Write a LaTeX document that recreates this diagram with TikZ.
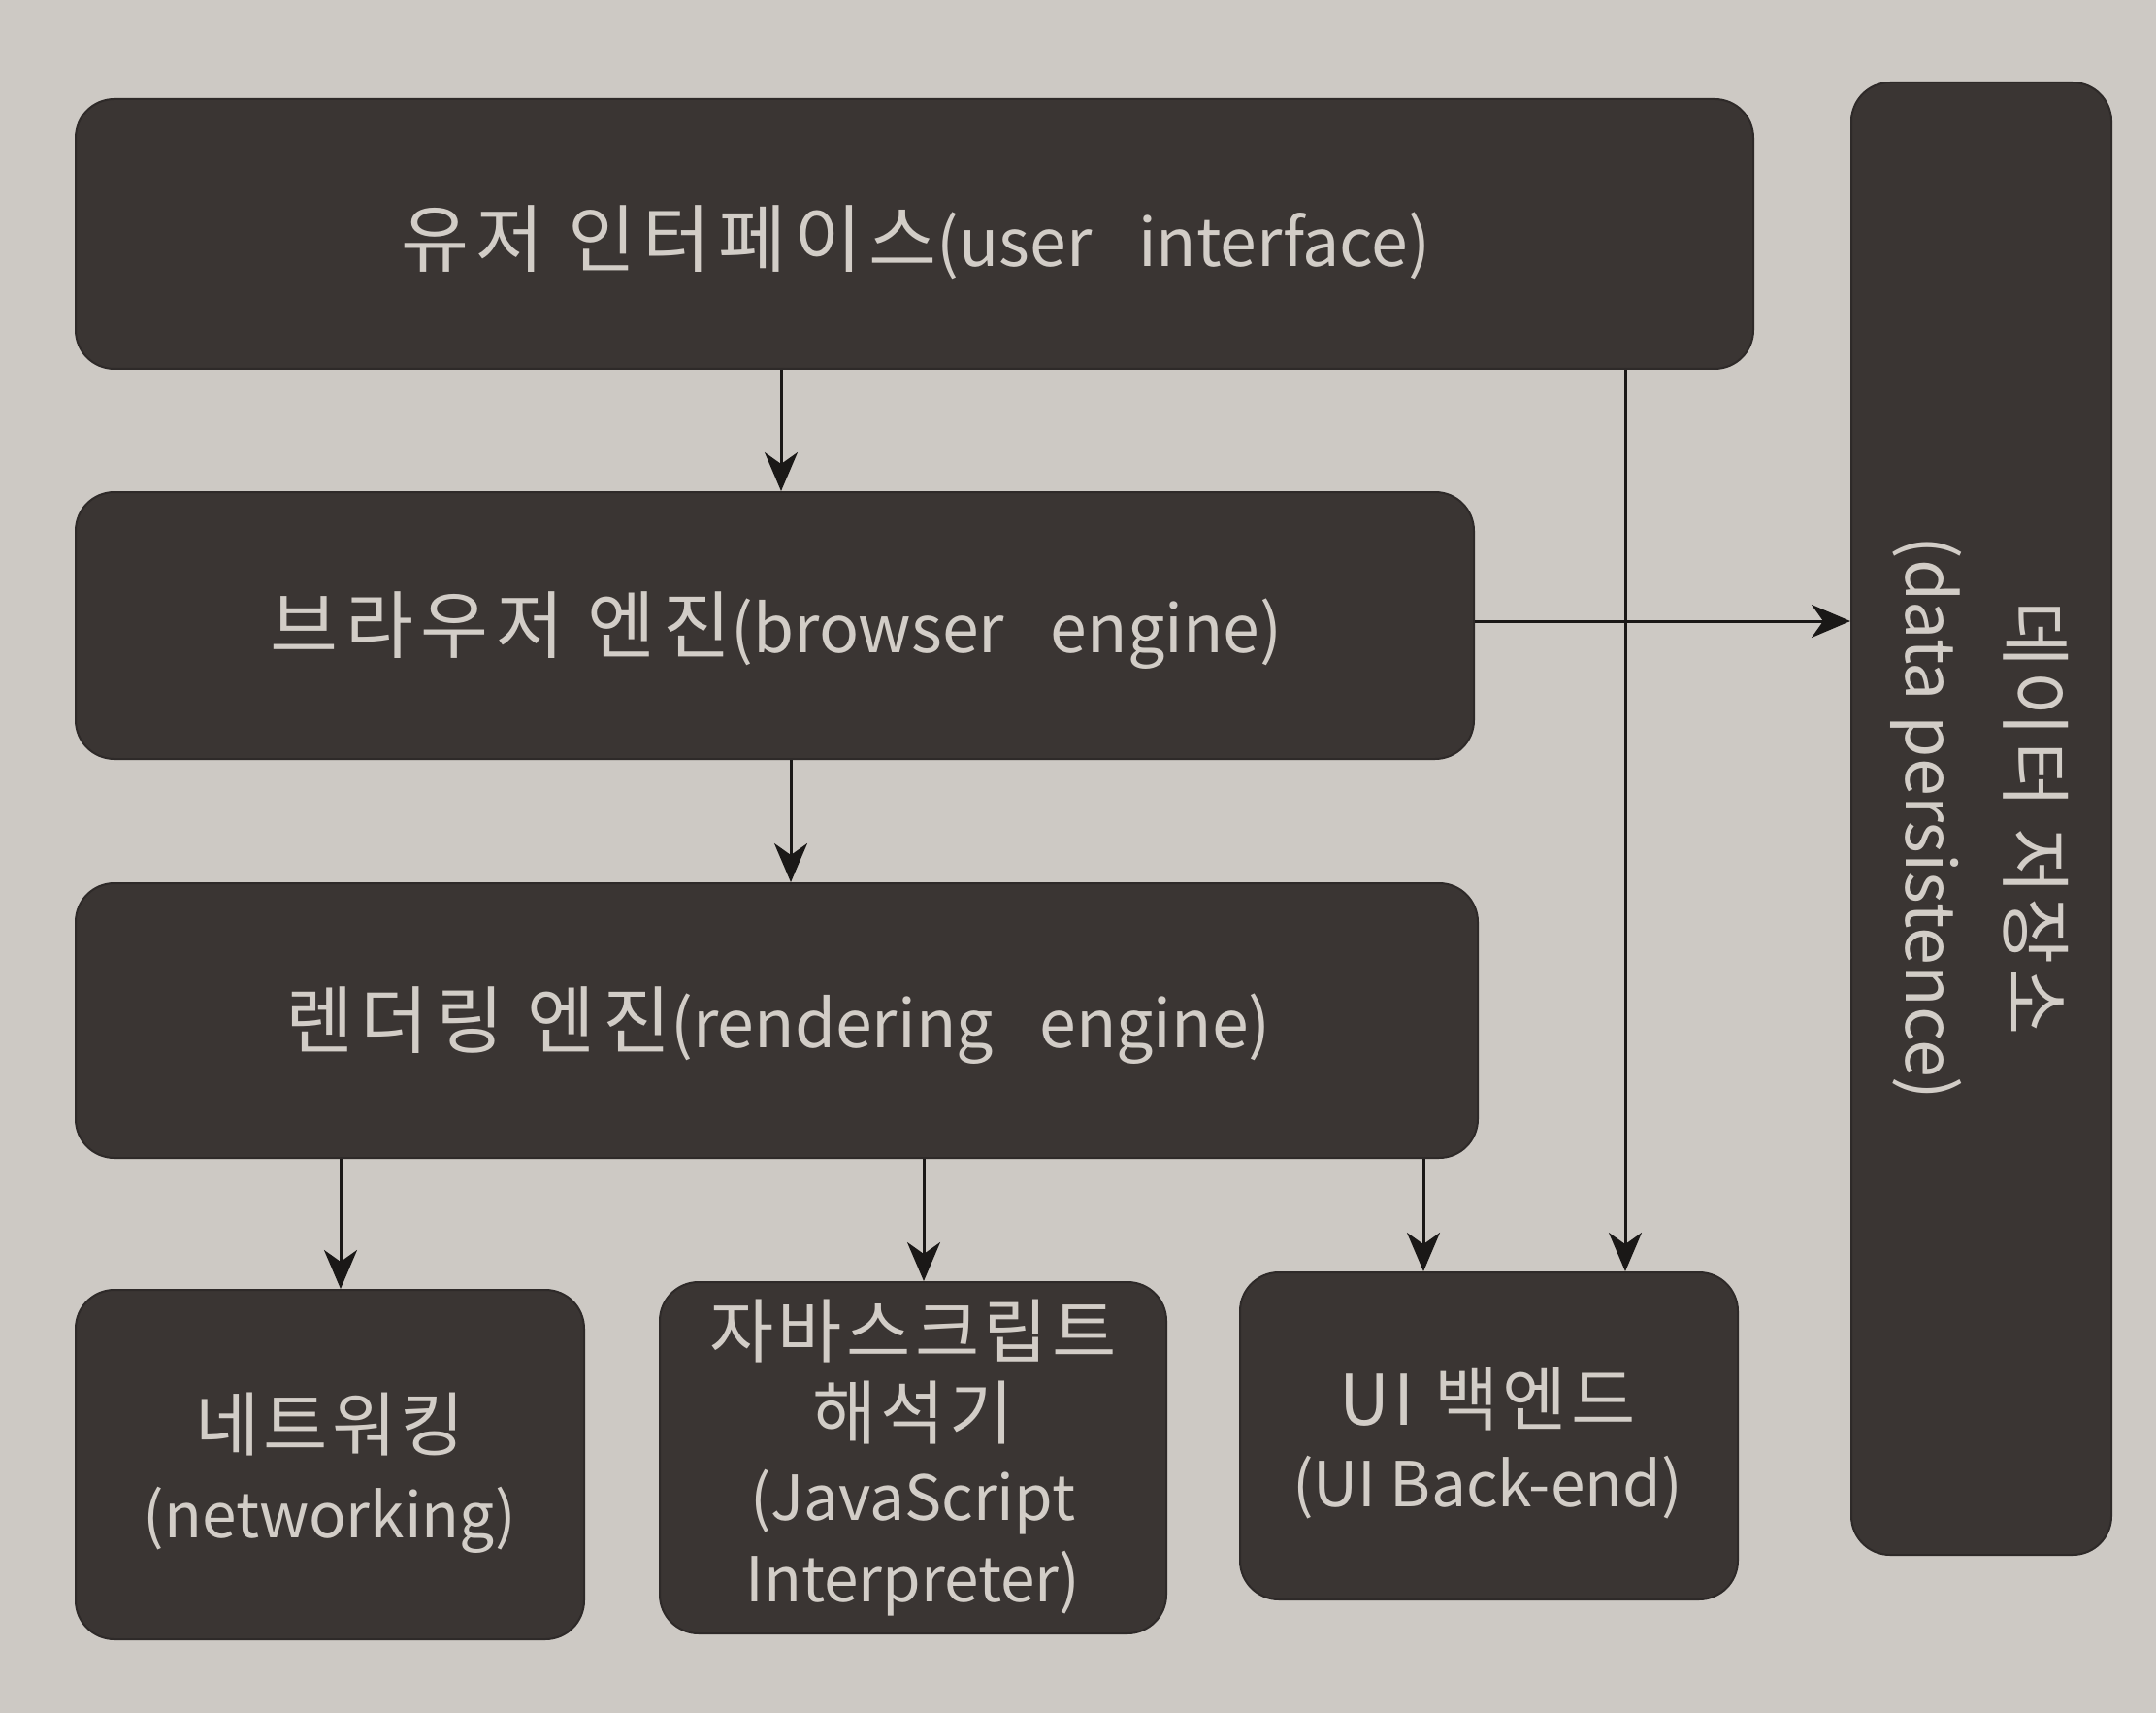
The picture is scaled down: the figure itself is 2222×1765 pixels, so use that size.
\documentclass[tikz,border=0pt]{standalone}
\usepackage{fontspec}
\setmainfont{Noto Sans CJK KR}
\newfontfamily\krbig[LetterSpace=10]{Noto Sans CJK KR}
\newfontfamily\krsmall[LetterSpace=6]{Noto Sans CJK KR}
\newcommand\KB[1]{{\krbig\fontsize{38}{44}\selectfont #1}}
\newcommand\KS[1]{{\krsmall\fontsize{36}{42}\selectfont #1}}
\usetikzlibrary{arrows.meta}
\definecolor{paper}{HTML}{CDC9C4}
\definecolor{boxfill}{HTML}{3A3533}
\definecolor{boxtext}{HTML}{D2CDC7}
\definecolor{linec}{HTML}{1A1817}
\tikzset{
  blk/.style={fill=boxfill, draw=boxfill!80!black, line width=1pt, rounded corners=20pt, inner sep=0pt},
  lbl/.style={text=boxtext, align=center, inner sep=0pt, font=\fontsize{32}{42}\selectfont},
  lblbig/.style={lbl, font=\fontsize{34}{44}\selectfont},
  arr/.style={draw=linec, line width=1.5pt, -{Stealth[length=20pt,width=17pt,inset=6pt]}}
}
\begin{document}
\begin{tikzpicture}[x=0.5pt,y=-0.5pt]
\useasboundingbox (0,0) rectangle (2222,1765);
\fill[paper] (0,0) rectangle (2222,1765);

\node[blk, minimum width=864.5pt, minimum height=139pt] (ui) at (942.5,241) {};
\node[lblbig] (uit) at (944,250) {\KB{유저 인터페이스}(user\hspace{0.7em}interface)};
\node[blk, minimum width=720.5pt, minimum height=137.5pt] (be) at (798.5,644.5) {};
\node[lblbig] (bet) at (800,650) {\KB{브라우저 엔진}(browser\hspace{0.7em}engine)};
\node[blk, minimum width=722.5pt, minimum height=141.5pt] (re) at (800.5,1051.5) {};
\node[lblbig] (ret) at (802,1057) {\KB{렌더링 엔진}(rendering\hspace{0.7em}engine)};

\node[blk, minimum width=262pt, minimum height=180pt] (net) at (340,1509) {};
\node[lbl, font=\fontsize{32}{45}\selectfont] (nett) at (340,1518) {\KS{네트워킹}\\(networking)};
\node[blk, minimum width=261pt, minimum height=181pt] (js) at (941,1502) {};
\node[lbl] (jst) at (941,1502) {\KS{자바스크립트}\\\KS{해석기}\\(JavaScript\\Interpreter)};
\node[blk, minimum width=256.5pt, minimum height=168.5pt] (uib) at (1534.5,1479.5) {};
\node[lbl] (uibt) at (1533,1487) {\KS{UI 백엔드}\\(UI Back-end)};

\node[blk, minimum width=134pt, minimum height=758.5pt] (dp) at (2042,843.5) {};
\node[lbl, rotate=-90, font=\fontsize{35}{53}\selectfont] (dpt) at (2040,843)
  {{\krsmall\fontsize{37}{53}\selectfont 데이터 저장소}\\(data persistence)};

\draw[arr] (ui.south -| 805,0) -- (be.north -| 805,0);
\draw[arr] (be.south -| 815,0) -- (re.north -| 815,0);
\draw[arr] (re.south -| 351,0) -- (net.north -| 351,0);
\draw[arr] (re.south -| 952,0) -- (js.north -| 952,0);
\draw[arr] (re.south -| 1467,0) -- (uib.north -| 1467,0);
\draw[arr] (ui.south -| 1675,0) -- (uib.north -| 1675,0);
\draw[arr] (be.east |- 0,640) -- (dp.west |- 0,640);
\end{tikzpicture}
\end{document}
